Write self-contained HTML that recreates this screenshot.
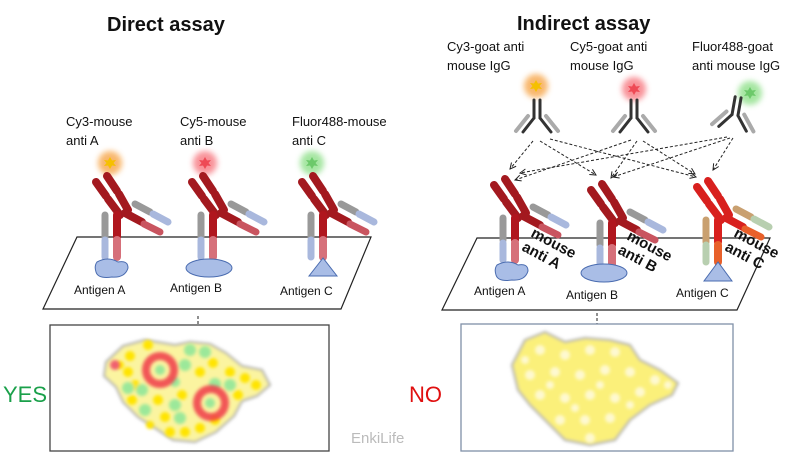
<!DOCTYPE html>
<html><head><meta charset="utf-8"><style>
html,body{margin:0;padding:0;background:#fff;width:800px;height:457px;overflow:hidden}
svg{display:block}
text{font-family:"Liberation Sans",sans-serif;fill:#111}
</style></head><body>
<svg width="800" height="457" viewBox="0 0 800 457" xmlns="http://www.w3.org/2000/svg">
<defs>
<filter id="b3" x="-1" y="-1" width="3" height="3"><feGaussianBlur stdDeviation="3"/></filter>
<filter id="b2" x="-0.3" y="-0.3" width="1.6" height="1.6"><feGaussianBlur stdDeviation="1.5"/></filter>
<marker id="ah" markerWidth="8" markerHeight="8" refX="7" refY="4" orient="auto" markerUnits="userSpaceOnUse"><path d="M1,1 L7,4 L1,7" fill="none" stroke="#222" stroke-width="1"/></marker>
<g id="ab" stroke-linecap="round" fill="none">
 <line x1="-21" y1="-55" x2="-11" y2="-41" stroke="#a3191f" stroke-width="8"/>
 <line x1="-9" y1="-38" x2="3" y2="-22" stroke="#a3191f" stroke-width="8"/>
 <line x1="-10" y1="-61" x2="0" y2="-46" stroke="#a3191f" stroke-width="8"/>
 <line x1="2" y1="-43" x2="11" y2="-27" stroke="#a3191f" stroke-width="8"/>
 <line x1="8" y1="-24" x2="25" y2="-15" stroke="#a3191f" stroke-width="8"/>
 <line x1="27" y1="-13" x2="43" y2="-5" stroke="#c95560" stroke-width="7"/>
 <line x1="18" y1="-33" x2="33" y2="-25" stroke="#999" stroke-width="7"/>
 <line x1="36" y1="-23" x2="51" y2="-15" stroke="#a9b8dd" stroke-width="7"/>
 <line x1="0" y1="-22" x2="0" y2="0" stroke="#b0161e" stroke-width="8"/>
 <line x1="0" y1="3" x2="0" y2="20" stroke="#d6707a" stroke-width="8"/>
 <line x1="-12" y1="-22" x2="-12" y2="0" stroke="#999" stroke-width="7"/>
 <line x1="-12" y1="3" x2="-12" y2="20" stroke="#a9b8dd" stroke-width="7"/>
</g>
<g id="abC" stroke-linecap="round" fill="none">
 <line x1="-21" y1="-55" x2="-11" y2="-41" stroke="#d8201e" stroke-width="8"/>
 <line x1="-9" y1="-38" x2="3" y2="-22" stroke="#d8201e" stroke-width="8"/>
 <line x1="-10" y1="-61" x2="0" y2="-46" stroke="#d8201e" stroke-width="8"/>
 <line x1="2" y1="-43" x2="11" y2="-27" stroke="#d8201e" stroke-width="8"/>
 <line x1="8" y1="-24" x2="25" y2="-15" stroke="#d8201e" stroke-width="8"/>
 <line x1="27" y1="-13" x2="43" y2="-5" stroke="#e8602a" stroke-width="7"/>
 <line x1="18" y1="-33" x2="33" y2="-25" stroke="#c9a070" stroke-width="7"/>
 <line x1="36" y1="-23" x2="51" y2="-15" stroke="#b8cfb0" stroke-width="7"/>
 <line x1="0" y1="-22" x2="0" y2="0" stroke="#d8201e" stroke-width="8"/>
 <line x1="0" y1="3" x2="0" y2="20" stroke="#e8602a" stroke-width="8"/>
 <line x1="-12" y1="-22" x2="-12" y2="0" stroke="#c9a070" stroke-width="7"/>
 <line x1="-12" y1="3" x2="-12" y2="20" stroke="#b8cfb0" stroke-width="7"/>
</g>
<g id="sec" stroke-linecap="round" fill="none">
 <line x1="-3" y1="-18" x2="-3" y2="0" stroke="#333" stroke-width="3"/>
 <line x1="3" y1="-18" x2="3" y2="0" stroke="#333" stroke-width="3"/>
 <line x1="-3" y1="0" x2="-14" y2="14" stroke="#333" stroke-width="3"/>
 <line x1="3" y1="0" x2="14" y2="14" stroke="#333" stroke-width="3"/>
 <line x1="-9" y1="-2" x2="-21" y2="13" stroke="#aaa" stroke-width="4"/>
 <line x1="9" y1="-2" x2="21" y2="13" stroke="#aaa" stroke-width="4"/>
</g>
<path id="star" d="M0,-6 L2,-2.5 6,-3 3.5,0 6,3 2,2.5 0,6 -2,2.5 -6,3 -3.5,0 -6,-3 -2,-2.5Z"/>
</defs>

<text x="107" y="31" font-size="20" font-weight="bold">Direct  assay</text>
<text x="517" y="30" font-size="20" font-weight="bold">Indirect  assay</text>

<g font-size="13">
<text x="66" y="126">Cy3-mouse</text><text x="66" y="145">anti A</text>
<text x="180" y="126">Cy5-mouse</text><text x="180" y="145">anti B</text>
<text x="292" y="126">Fluor488-mouse</text><text x="292" y="145">anti C</text>
<text x="447" y="51">Cy3-goat anti</text><text x="447" y="70">mouse IgG</text>
<text x="570" y="51">Cy5-goat anti</text><text x="570" y="70">mouse IgG</text>
<text x="692" y="51">Fluor488-goat</text><text x="692" y="70">anti mouse IgG</text>
</g>

<polygon points="77,237 371,237 341,309 43,309" fill="#fff" stroke="#222" stroke-width="1.2"/>
<polygon points="477,238 770,238 737,310 442,310" fill="#fff" stroke="#222" stroke-width="1.2"/>

<circle cx="110" cy="163" r="12" fill="#f7a64a" filter="url(#b3)" opacity="0.8"/>
<use href="#star" x="110" y="163" fill="#f5c000"/>
<circle cx="205" cy="163" r="12" fill="#f77880" filter="url(#b3)" opacity="0.8"/>
<use href="#star" x="205" y="163" fill="#ee4a55"/>
<circle cx="312" cy="163" r="12" fill="#8fe08a" filter="url(#b3)" opacity="0.8"/>
<use href="#star" x="312" y="163" fill="#6cc96a"/>

<use href="#ab" x="117" y="237"/>
<use href="#ab" x="213" y="237"/>
<use href="#ab" x="323" y="237"/>

<path d="M97,262 Q108,256 118,262 Q128,260 128,268 Q125,278 112,277 Q98,279 96,272 Q94,266 97,262Z" fill="#a9bde6" stroke="#4a6cb0" stroke-width="1"/>
<ellipse cx="209" cy="268" rx="23" ry="9" fill="#a9bde6" stroke="#4a6cb0" stroke-width="1"/>
<polygon points="323,258 309,276 337,276" fill="#a9bde6" stroke="#4a6cb0" stroke-width="1"/>
<g font-size="12">
<text x="74" y="294">Antigen A</text>
<text x="170" y="292">Antigen B</text>
<text x="280" y="295">Antigen C</text>
</g>

<circle cx="536" cy="86" r="12" fill="#f7a64a" filter="url(#b3)" opacity="0.8"/>
<use href="#star" x="536" y="86" fill="#f5c000"/>
<circle cx="634" cy="89" r="12" fill="#f77880" filter="url(#b3)" opacity="0.8"/>
<use href="#star" x="634" y="89" fill="#ee4a55"/>
<circle cx="750" cy="93" r="12" fill="#8fe08a" filter="url(#b3)" opacity="0.8"/>
<use href="#star" x="750" y="93" fill="#6cc96a"/>
<use href="#sec" x="537" y="118"/>
<use href="#sec" x="634" y="118"/>
<use href="#sec" x="735" y="115" transform="rotate(10 735 115)"/>

<g stroke="#222" stroke-width="1" stroke-dasharray="3,2" fill="none" marker-end="url(#ah)">
<line x1="533" y1="141" x2="510" y2="169"/>
<line x1="540" y1="141" x2="596" y2="175"/>
<line x1="550" y1="139" x2="696" y2="177"/>
<line x1="631" y1="140" x2="515" y2="180"/>
<line x1="637" y1="141" x2="611" y2="178"/>
<line x1="643" y1="141" x2="695" y2="174"/>
<line x1="727" y1="137" x2="520" y2="173"/>
<line x1="730" y1="138" x2="613" y2="177"/>
<line x1="733" y1="138" x2="713" y2="170"/>
</g>

<use href="#ab" x="515" y="240"/>
<use href="#ab" x="612" y="245"/>
<use href="#abC" x="718" y="242"/>

<g font-size="15" font-weight="bold">
<text transform="translate(530,236) rotate(28)">mouse</text>
<text transform="translate(521,250) rotate(28)">anti A</text>
<text transform="translate(626,239) rotate(28)">mouse</text>
<text transform="translate(617,253) rotate(28)">anti B</text>
<text transform="translate(733,236) rotate(28)">mouse</text>
<text transform="translate(724,250) rotate(28)">anti C</text>
</g>

<path d="M497,265 Q508,259 518,265 Q528,263 528,271 Q525,281 512,280 Q498,282 496,275 Q494,269 497,265Z" fill="#a9bde6" stroke="#4a6cb0" stroke-width="1"/>
<ellipse cx="604" cy="273" rx="23" ry="9" fill="#a9bde6" stroke="#4a6cb0" stroke-width="1"/>
<polygon points="718,262 704,281 732,281" fill="#a9bde6" stroke="#4a6cb0" stroke-width="1"/>
<g font-size="12">
<text x="474" y="295">Antigen A</text>
<text x="566" y="299">Antigen B</text>
<text x="676" y="297">Antigen C</text>
</g>

<g stroke="#222" stroke-width="1" stroke-dasharray="3,2" fill="none" marker-end="url(#ah)">
<line x1="198" y1="316" x2="198" y2="333"/>
<line x1="597" y1="313" x2="597" y2="332"/>
</g>

<rect x="50" y="325" width="279" height="126" fill="#fff" stroke="#444" stroke-width="1.3"/>
<rect x="461" y="324" width="272" height="127" fill="#fff" stroke="#8090a8" stroke-width="1.3"/>

<!-- left blob -->
<path d="M106,362 L123,346 145,340 175,345 190,342 210,344 226,353 242,366 262,370 270,385 257,396 242,401 234,416 216,432 195,442 173,440 158,430 138,417 123,402 116,387 104,376Z" fill="#fbf4a0" stroke="#aaa" stroke-width="2" stroke-linejoin="round" filter="url(#b2)"/>
<g filter="url(#b2)">
<g fill="#ffe400">
<circle cx="148" cy="345" r="5"/><circle cx="130" cy="356" r="5"/><circle cx="128" cy="372" r="5"/><circle cx="132" cy="400" r="5"/><circle cx="158" cy="400" r="5"/><circle cx="165" cy="417" r="5"/><circle cx="170" cy="432" r="5"/><circle cx="185" cy="432" r="5"/><circle cx="200" cy="428" r="5"/><circle cx="215" cy="420" r="5"/><circle cx="200" cy="372" r="5"/><circle cx="213" cy="363" r="5"/><circle cx="230" cy="372" r="5"/><circle cx="245" cy="378" r="5"/><circle cx="256" cy="385" r="5"/><circle cx="238" cy="395" r="5"/><circle cx="135" cy="385" r="5"/><circle cx="182" cy="395" r="5"/><circle cx="120" cy="365" r="4"/><circle cx="150" cy="425" r="4"/>
</g>
<g fill="#9be89a">
<circle cx="190" cy="350" r="6"/><circle cx="205" cy="352" r="6"/><circle cx="185" cy="365" r="6"/><circle cx="230" cy="385" r="6"/><circle cx="215" cy="384" r="6"/><circle cx="128" cy="388" r="6"/><circle cx="142" cy="390" r="6"/><circle cx="145" cy="410" r="6"/><circle cx="175" cy="405" r="6"/><circle cx="180" cy="418" r="6"/><circle cx="160" cy="370" r="5"/><circle cx="210" cy="403" r="5"/><circle cx="175" cy="382" r="5"/>
</g>
</g>
<g fill="none" stroke="#f03a48" stroke-width="8" filter="url(#b2)" opacity="0.85">
<circle cx="160" cy="370" r="14"/><circle cx="211" cy="403" r="14"/>
</g>
<circle cx="115" cy="365" r="5" fill="#f06070" filter="url(#b2)"/>

<!-- right blob -->
<path d="M512,365 L525,340 545,332 565,342 585,338 610,340 630,345 640,360 660,370 678,383 672,395 650,405 630,420 615,440 590,445 565,440 545,420 530,405 518,390Z" fill="#fbf07a" stroke="#aaa" stroke-width="2" stroke-linejoin="round" filter="url(#b2)"/>
<g fill="#fffbe0" filter="url(#b2)" opacity="0.85">
<circle cx="540" cy="350" r="5"/><circle cx="565" cy="355" r="5"/><circle cx="590" cy="350" r="5"/><circle cx="615" cy="352" r="5"/><circle cx="530" cy="375" r="5"/><circle cx="555" cy="372" r="5"/><circle cx="580" cy="375" r="5"/><circle cx="605" cy="370" r="5"/><circle cx="630" cy="372" r="5"/><circle cx="655" cy="380" r="5"/><circle cx="540" cy="395" r="5"/><circle cx="565" cy="398" r="5"/><circle cx="590" cy="395" r="5"/><circle cx="615" cy="398" r="5"/><circle cx="640" cy="392" r="5"/><circle cx="560" cy="420" r="5"/><circle cx="585" cy="420" r="5"/><circle cx="610" cy="418" r="5"/><circle cx="590" cy="438" r="5"/><circle cx="668" cy="385" r="4"/><circle cx="525" cy="360" r="4"/><circle cx="630" cy="405" r="4"/><circle cx="550" cy="385" r="4"/><circle cx="600" cy="385" r="4"/><circle cx="575" cy="408" r="4"/>
</g>

<text x="3" y="402" font-size="22" style="fill:#1aa04a">YES</text>
<text x="409" y="402" font-size="22" style="fill:#e01010">NO</text>
<text x="351" y="443" font-size="15" style="fill:#bbb">EnkiLife</text>
</svg>
</body></html>
